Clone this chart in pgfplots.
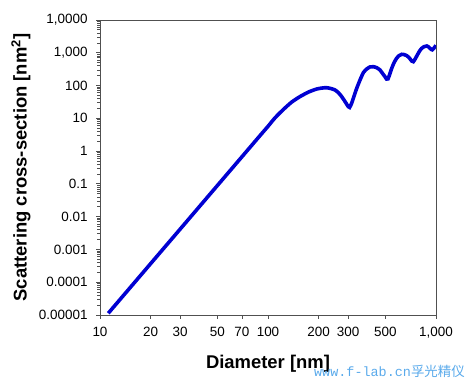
\documentclass[border=0pt]{standalone}
\usepackage{pgfplots}
\pgfplotsset{compat=1.18}
\usepackage{fontspec}
\setmainfont{Liberation Sans}
\newfontfamily\cjk{Noto Sans CJK SC}
\newfontfamily\wmono{Liberation Mono}
\definecolor{curve}{RGB}{0,0,210}
\definecolor{wm}{RGB}{90,170,235}
\definecolor{axgray}{RGB}{80,80,80}
\begin{document}
\begin{tikzpicture}
\useasboundingbox (-100bp,-64bp) rectangle (365bp,315bp);
\begin{axis}[at={(0,0)}, anchor=south west, scale only axis,
  width=336bp, height=295bp,
  xmode=log, ymode=log, xmin=10, xmax=1000, ymin=1e-5, ymax=1e4,
  axis line style={draw=axgray, line width=0.8bp},
  xtick={10,20,30,50,70,100,200,300,500,1000},
  xticklabels={10,20,30,50,70,100,200,300,500,{1,000}},
  ytick={1e-5,1e-4,1e-3,1e-2,1e-1,1,10,100,1000,10000},
  yticklabels={0.00001,0.0001,0.001,0.01,0.1,1,10,100,{1,000},{1,0000}},
  minor xtick={}, minor ytick={},
  tick align=outside, xtick pos=bottom, ytick pos=left,
  major tick length=4bp, tick style={draw=axgray, line width=0.8bp},
  ticklabel style={font=\fontsize{13.5}{15}\selectfont},
  xticklabel style={yshift=-5bp},
  yticklabel style={xshift=-5bp},
  xlabel={Diameter [nm]},
  ylabel={Scattering cross-section [nm\textsuperscript{2}]},
  label style={font=\fontsize{18.5}{21}\selectfont\bfseries},
  xlabel style={at={(axis description cs:0.5,-0.165)}, anchor=center},
  ylabel style={at={(axis description cs:-0.235,0.5)}, anchor=center},
]
\addplot[curve, line width=3.6bp, smooth, tension=0.4] table {
d v
11.2 1.13e-5
20 3.67e-4
30 4.17e-3
50 0.0895
65 0.432
78.2 1.31
90 3.05
100 5.7
110 10.3
123.3 18.5
138 31
155 46
175 64
195 78.5
210 84
223 86
237 81
250.6 73.3
263 60
274.8 45.7
288 32
300.8 22.6
306 21.5
314 28
322 40.8
336 78
353 148
370 250
387 320
405 370
424 376
444 350
464 299
482 230
497 186
508 158
518 160
530 220
545 336
563 500
583 680
603 820
625 899
648 880
670 815
695 690
717 561
733 535
752 650
774 855
798 1120
822 1371
850 1540
881 1611
902 1520
921 1371
938 1260
950 1230
966 1330
986 1531
1000 1680
};
\end{axis}
\node[anchor=base east, text=wm, inner sep=0pt] at (365bp,-61bp)
  {\fontsize{13.5}{15}\selectfont\wmono www.f-lab.cn\cjk 孚光精仪};
\end{tikzpicture}
\end{document}
